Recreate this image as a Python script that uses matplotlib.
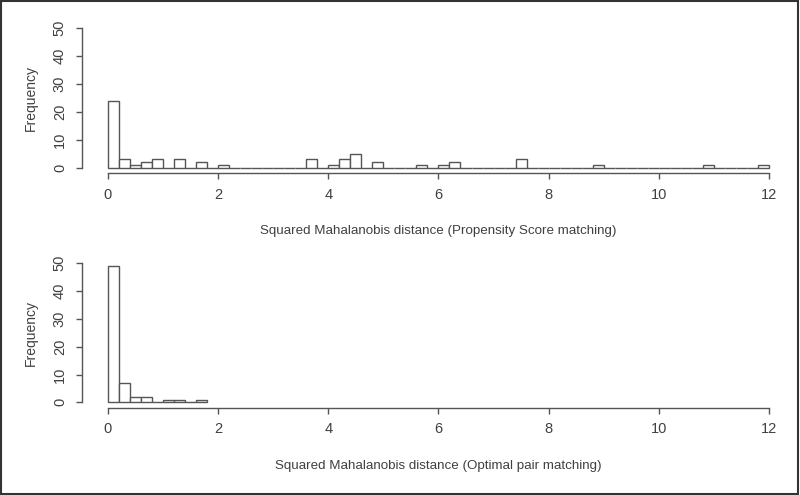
import numpy as np
import matplotlib
matplotlib.use("Agg")
import matplotlib.pyplot as plt
from matplotlib.patches import Rectangle

# Data: histogram counts per bin of width 0.2 starting at 0
bin_width = 0.2
ps_counts = [24, 3, 1, 2, 3, 0, 3, 0, 2, 0,
             1, 0, 0, 0, 0, 0, 0, 0, 3, 0,
             1, 3, 5, 0, 2, 0, 0, 0, 1, 0,
             1, 2, 0, 0, 0, 0, 0, 3, 0, 0,
             0, 0, 0, 0, 1, 0, 0, 0, 0, 0,
             0, 0, 0, 0, 1, 0, 0, 0, 0, 1]
opt_counts = [49, 7, 2, 2, 0, 1, 1, 0, 1]
x_ticks = [0, 2, 4, 6, 8, 10, 12]
y_ticks = [0, 10, 20, 30, 40, 50]
xlabels = ["Squared Mahalanobis distance (Propensity Score matching)",
           "Squared Mahalanobis distance (Optimal pair matching)"]
ylabel = "Frequency"

plt.rcParams['font.family'] = ['Liberation Sans', 'DejaVu Sans']
txt = '#404040'
line = '#555555'

fig = plt.figure(figsize=(8, 4.95), dpi=100)
W, H = 800, 495

def add_axes(top_px, bottom_px, left_px=81.5, right_px=795.4):
    return fig.add_axes([left_px / W, 1 - bottom_px / H,
                         (right_px - left_px) / W, (bottom_px - top_px) / H])

ax1 = add_axes(22.7, 173.3)
ax2 = add_axes(257.7, 407.9)

for ax, counts, xl in [(ax1, ps_counts, xlabels[0]), (ax2, opt_counts, xlabels[1])]:
    lefts = np.arange(len(counts)) * bin_width
    ax.bar(lefts, counts, width=bin_width, align='edge', facecolor='white',
           edgecolor=line, linewidth=1.0)
    ax.set_xlim(-0.48, 12.48)
    ax.set_ylim(-2, 52)
    for s in ['top', 'right']:
        ax.spines[s].set_visible(False)
    ax.spines['left'].set_bounds(0, 50)
    ax.spines['bottom'].set_bounds(0, 12)
    for s in ['left', 'bottom']:
        ax.spines[s].set_color(line)
        ax.spines[s].set_linewidth(1.0)
    ax.set_xticks(x_ticks)
    ax.set_yticks(y_ticks)
    ax.tick_params(axis='both', direction='out', length=4.5, width=1.0,
                   color=line, labelcolor=txt, labelsize=10.5)
    ax.tick_params(axis='x', pad=6)
    ax.tick_params(axis='y', pad=6)
    for lab in ax.get_yticklabels():
        lab.set_rotation(90)
        lab.set_va('center')
    ax.set_xlabel(xl, color=txt, fontsize=9.6, labelpad=17)
    ax.set_ylabel(ylabel, color=txt, fontsize=10, labelpad=11)

fig.patches.append(Rectangle((0.001, 0.002), 0.996, 0.995, transform=fig.transFigure,
                             fill=False, edgecolor='#333333', linewidth=1.5))

fig.savefig('out.png', dpi=100, facecolor='white')
